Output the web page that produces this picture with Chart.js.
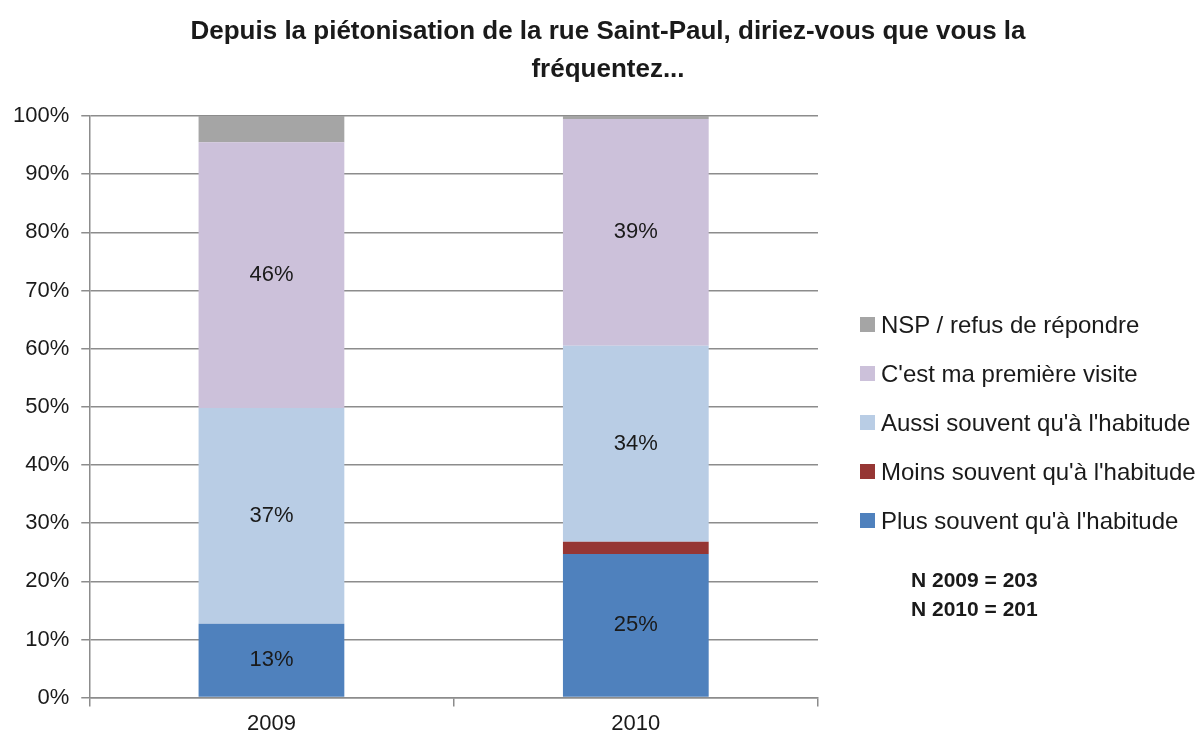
<!DOCTYPE html>
<html lang="fr">
<head>
<meta charset="UTF-8">
<title>Fréquentation de la rue Saint-Paul</title>
<style>
  body { margin: 0; background: #fff; }
  #wrap { width: 1200px; height: 741px; position: relative; font-family: 'Liberation Sans', Arial, sans-serif; color: #1a1a1a; }
  #title { position: absolute; left: 108px; width: 1000px; top: 11px; text-align: center; font-weight: bold; font-size: 26px; line-height: 38px; }
  #legend { position: absolute; left: 860px; top: 311px; margin: 0; padding: 0; list-style: none; }
  #legend li { height: 49px; display: flex; align-items: flex-start; font-size: 24px; line-height: 28px; white-space: nowrap; }
  #legend li span { display: inline-block; width: 15px; height: 15px; margin: 6px 6px 0 0; }
  #notes { position: absolute; left: 911px; top: 565px; font-weight: bold; font-size: 21px; line-height: 29px; }
</style>
</head>
<body>
<div id="wrap">
  <canvas id="chart" width="1200" height="741"></canvas>
  <div id="title">Depuis la piétonisation de la rue Saint-Paul, diriez-vous que vous la<br>fréquentez...</div>
  <ul id="legend"></ul>
  <div id="notes"></div>
</div>
<script src="https://cdn.jsdelivr.net/npm/chart.js"></script>
<script>
  const years = ['2009', '2010'];

  // shares in %
  const plusSouvent = [12.7, 24.7];
  const moinsSouvent = [0, 2.1];
  const aussiSouvent = [37.1, 33.7];
  const premiereVisite = [45.7, 39.0];
  const nsp = [4.5, 0.5];

  // printed labels (only some segments carry one)
  const plusLabels = ['13%', '25%'];
  const aussiLabels = ['37%', '34%'];
  const premiereLabels = ['46%', '39%'];

  const yTicks = [0, 10, 20, 30, 40, 50, 60, 70, 80, 90, 100];
  const sampleNotes = ['N 2009 = 203', 'N 2010 = 201'];

  const FONT = "'Liberation Sans', Arial, sans-serif";
  const GRID = '#8c8c8c';

  const segmentLabels = {
    id: 'segmentLabels',
    afterDatasetsDraw(chart) {
      const ctx = chart.ctx;
      ctx.save();
      ctx.font = '22px ' + FONT;
      ctx.fillStyle = '#1a1a1a';
      ctx.textAlign = 'center';
      ctx.textBaseline = 'middle';
      chart.data.datasets.forEach((ds, i) => {
        if (!ds.segLabels) return;
        chart.getDatasetMeta(i).data.forEach((bar, j) => {
          ctx.fillText(ds.segLabels[j], bar.x, (bar.y + bar.base) / 2);
        });
      });
      ctx.restore();
    }
  };

  const chart = new Chart(document.getElementById('chart'), {
    type: 'bar',
    data: {
      labels: years,
      datasets: [
        { label: "Plus souvent qu'à l'habitude", data: plusSouvent, backgroundColor: '#4f81bd', segLabels: plusLabels },
        { label: "Moins souvent qu'à l'habitude", data: moinsSouvent, backgroundColor: '#963634' },
        { label: "Aussi souvent qu'à l'habitude", data: aussiSouvent, backgroundColor: '#b9cde5', segLabels: aussiLabels },
        { label: "C'est ma première visite", data: premiereVisite, backgroundColor: '#ccc1da', segLabels: premiereLabels },
        { label: 'NSP / refus de répondre', data: nsp, backgroundColor: '#a5a5a5' }
      ]
    },
    options: {
      responsive: false,
      animation: false,
      layout: { padding: { left: 1, right: 382, top: 116, bottom: 0 } },
      datasets: { bar: { barPercentage: 0.4, categoryPercentage: 1.0 } },
      scales: {
        x: {
          stacked: true,
          offset: true,
          grid: { display: true, drawOnChartArea: false, drawTicks: true, tickLength: 9, color: GRID, lineWidth: 1.5, offset: true },
          border: { color: GRID, width: 1.5 },
          ticks: { color: '#1a1a1a', font: { family: FONT, size: 22 }, padding: 4 }
        },
        y: {
          stacked: true,
          min: 0,
          max: 100,
          afterBuildTicks(axis) { axis.ticks = yTicks.map(v => ({ value: v })); },
          grid: { color: GRID, lineWidth: 1.5, tickLength: 8 },
          border: { color: GRID, width: 1.5 },
          ticks: { color: '#1a1a1a', font: { family: FONT, size: 22 }, padding: 12, callback: v => v + '%' }
        }
      },
      plugins: {
        title: { display: false },
        legend: { display: false },
        tooltip: { enabled: false }
      }
    },
    plugins: [segmentLabels]
  });

  // legend built from the datasets, top item = last dataset
  const legendEl = document.getElementById('legend');
  chart.data.datasets.slice().reverse().forEach(ds => {
    const li = document.createElement('li');
    const sw = document.createElement('span');
    sw.style.background = ds.backgroundColor;
    li.appendChild(sw);
    li.appendChild(document.createTextNode(ds.label));
    legendEl.appendChild(li);
  });
  document.getElementById('notes').innerHTML = sampleNotes.join('<br>');
</script>
</body>
</html>
